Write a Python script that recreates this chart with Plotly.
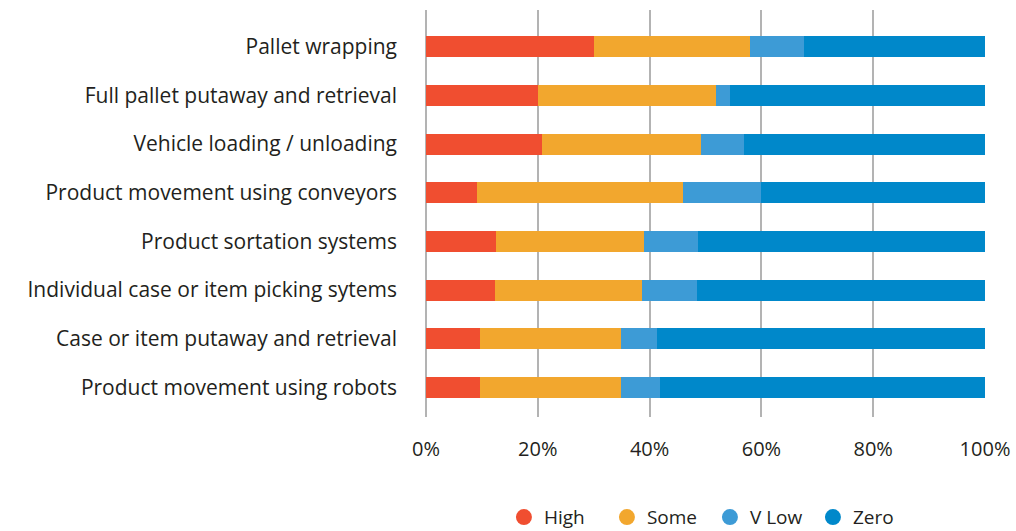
import plotly.graph_objects as go

# Automation activities (top to bottom)
categories = [
    "Pallet wrapping",
    "Full pallet putaway and retrieval",
    "Vehicle loading / unloading",
    "Product movement using conveyors",
    "Product sortation systems",
    "Individual case or item picking sytems",
    "Case or item putaway and retrieval",
    "Product movement using robots",
]

# Share of respondents (%) per level
high = [30.1, 20.1, 20.8, 9.2, 12.5, 12.3, 9.6, 9.6]
some = [27.9, 31.7, 28.4, 36.8, 26.5, 26.4, 25.3, 25.3]
v_low = [9.7, 2.5, 7.7, 14.0, 9.7, 9.8, 6.5, 7.0]
zero = [32.3, 45.7, 43.1, 40.0, 51.3, 51.5, 58.6, 58.1]

tick_vals = [0, 20, 40, 60, 80, 100]
tick_text = ["0%", "20%", "40%", "60%", "80%", "100%"]

series = [
    ("High", high, "#f04e30"),
    ("Some", some, "#f2a72e"),
    ("V Low", v_low, "#3d9bd6"),
    ("Zero", zero, "#0088ca"),
]

FONT = "'Open Sans', 'Noto Sans', sans-serif"
TEXT = "#231f20"

fig = go.Figure()
for name, vals, color in series:
    fig.add_trace(go.Bar(
        y=categories, x=vals, name=name, orientation="h",
        marker=dict(color=color, line=dict(width=0)),
        showlegend=False, hoverinfo="x+y+name",
    ))

# Circular legend keys
for name, vals, color in series:
    fig.add_trace(go.Scatter(
        x=[None], y=[None], mode="markers", name=name,
        marker=dict(symbol="circle", size=18, color=color),
        showlegend=True,
    ))

fig.update_layout(
    width=1016, height=531,
    barmode="stack", bargap=0.569,
    paper_bgcolor="white", plot_bgcolor="white",
    margin=dict(l=426, r=31, t=9.5, b=114.3, autoexpand=False),
    font=dict(family=FONT, size=21, color=TEXT),
    xaxis=dict(
        range=[0, 100], tickvals=tick_vals, ticktext=tick_text,
        showgrid=True, gridcolor="#b3b3b3", gridwidth=2,
        zeroline=True, zerolinecolor="#b3b3b3", zerolinewidth=2,
        showline=False, ticks="", ticklabelstandoff=18,
        tickfont=dict(family=FONT, size=20, color=TEXT),
        automargin=False, fixedrange=True,
    ),
    yaxis=dict(
        type="category", categoryorder="array", categoryarray=categories,
        range=[7.606, -0.753],
        showgrid=False, zeroline=False, showline=False, ticks="",
        ticklabelstandoff=28,
        tickfont=dict(family=FONT, size=21, color=TEXT),
        automargin=False, fixedrange=True,
    ),
    legend=dict(
        orientation="h", traceorder="normal",
        xref="container", x=0.496, xanchor="left",
        yref="container", y=0.026, yanchor="middle",
        entrywidth=58, entrywidthmode="pixels",
        font=dict(family=FONT, size=19, color=TEXT),
        itemsizing="trace", bgcolor="rgba(0,0,0,0)",
    ),
)

fig.write_html("out.html")
